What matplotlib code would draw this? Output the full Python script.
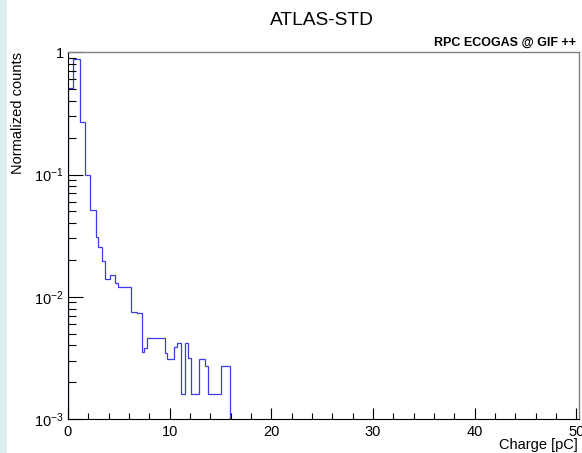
import matplotlib
matplotlib.use("Agg")
import matplotlib.pyplot as plt
from matplotlib.ticker import MultipleLocator, LogLocator, NullFormatter
from matplotlib.patches import Rectangle

# Charge spectrum (normalized), bin edges in pC and bin contents
bin_edges = [0.0, 0.46, 1.21, 1.64, 2.19, 2.72, 2.91, 3.33, 3.66, 4.12, 4.58,
             4.93, 6.16, 6.74, 7.23, 7.48, 7.77, 9.53, 9.77, 10.39, 10.75,
             11.08, 11.47, 11.76, 12.06, 12.84, 13.46, 13.75, 15.0, 15.96]
bin_values = [0.508, 0.877, 0.271, 0.0993, 0.0514, 0.0311, 0.0257, 0.0198,
              0.0139, 0.0150, 0.0129, 0.0121, 0.00757, 0.00734, 0.00350,
              0.00384, 0.00464, 0.00346, 0.00309, 0.00387, 0.00422, 0.00161,
              0.00422, 0.00315, 0.00161, 0.00309, 0.00272, 0.00161, 0.00272]

y_ticks = [1e-3, 1e-2, 1e-1, 1.0]
y_tick_labels = [r"$10^{-3}$", r"$10^{-2}$", r"$10^{-1}$", "1"]
x_ticks = [0, 10, 20, 30, 40, 50]
x_tick_labels = ["0", "10", "20", "30", "40", "50"]

title = "ATLAS-STD"
tag = "RPC ECOGAS @ GIF ++"
x_title = "Charge [pC]"
y_title = "Normalized counts"

plt.rcParams["font.family"] = ["Liberation Sans", "DejaVu Sans"]
plt.rcParams["mathtext.fontset"] = "custom"
plt.rcParams["mathtext.rm"] = "Liberation Sans"
plt.rcParams["mathtext.it"] = "Liberation Sans:italic"
plt.rcParams["mathtext.bf"] = "Liberation Sans:bold"

W, H = 582, 453
fig = plt.figure(figsize=(W / 100, H / 100), dpi=100)
fig.patches.append(Rectangle((0, 0), 7 / W, 1, transform=fig.transFigure,
                             facecolor="#dceef4", edgecolor="none", zorder=0))

left, right, top, bottom = 68, 579, 52.3, 419
ax = fig.add_axes([left / W, 1 - bottom / H, (right - left) / W, (bottom - top) / H])

ax.stairs(bin_values, bin_edges, baseline=1e-6, color="#3c3ce6", lw=0.9)

ax.set_yscale("log")
ax.set_ylim(1e-3, 1.0)
ax.set_xlim(0, 50.25)

ax.set_xticks(x_ticks, labels=x_tick_labels)
ax.xaxis.set_minor_locator(MultipleLocator(2))
ax.set_yticks(y_ticks, labels=y_tick_labels)
ax.yaxis.set_minor_locator(LogLocator(base=10, subs=range(2, 10)))
ax.yaxis.set_minor_formatter(NullFormatter())

ax.tick_params(which="both", direction="in", top=False, right=False,
               colors="black", width=0.8, labelsize=10.5)
ax.tick_params(axis="x", which="major", length=8, pad=4)
ax.tick_params(axis="x", which="minor", length=4)
ax.tick_params(axis="y", which="major", length=11, pad=3)
ax.tick_params(axis="y", which="minor", length=6)

for side in ("left", "bottom"):
    ax.spines[side].set_color("black")
    ax.spines[side].set_linewidth(0.8)
for side in ("top", "right"):
    ax.spines[side].set_color("#808080")
    ax.spines[side].set_linewidth(1.0)

fig.text(322 / W, 1 - 20.5 / H, title, ha="center", va="center", fontsize=13.8)
fig.text(576 / W, 1 - 42.5 / H, tag, ha="right", va="center",
         fontsize=9.0, fontweight="bold")
fig.text(578 / W, 1 - 445 / H, x_title, ha="right", va="center", fontsize=10.5)
fig.text(18 / W, 1 - 52 / H, y_title, rotation=90, ha="center", va="top",
         fontsize=10.5)

fig.savefig("out.png", dpi=100)
